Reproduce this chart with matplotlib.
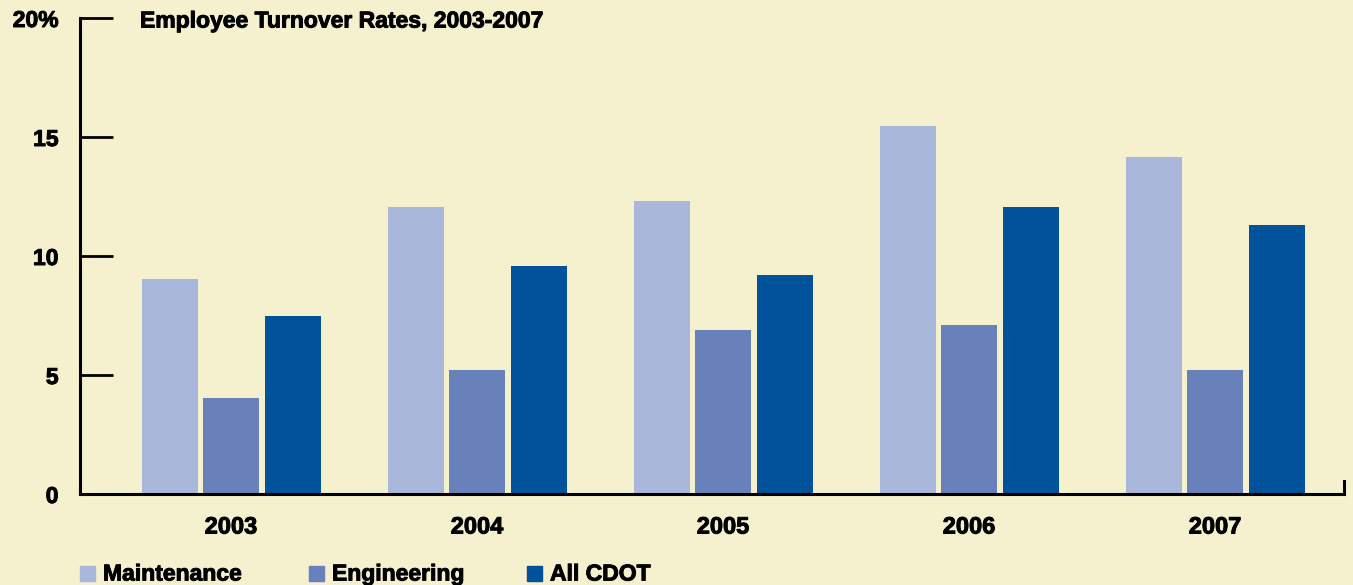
import matplotlib
matplotlib.use("Agg")
import matplotlib.pyplot as plt
import matplotlib.patheffects as pe
from matplotlib.patches import Rectangle
from matplotlib.lines import Line2D
import numpy as np

years = ["2003", "2004", "2005", "2006", "2007"]
series_names = ["Maintenance", "Engineering", "All CDOT"]
maintenance = [9.05, 12.05, 12.3, 15.45, 14.15]
engineering = [4.05, 5.2, 6.9, 7.1, 5.2]
all_cdot = [7.5, 9.6, 9.2, 12.05, 11.3]
y_ticks = [0, 5, 10, 15, 20]
y_tick_labels = ["0", "5", "10", "15", "20%"]
title = "Employee Turnover Rates, 2003-2007"

colors = ["#A9B7DA", "#6881BA", "#00529B"]
bg = "#F5F0CD"

W, H = 1353, 585
fig = plt.figure(figsize=(W / 100, H / 100), dpi=100, facecolor=bg)
plt.rcParams["font.family"] = ["Liberation Sans", "DejaVu Sans"]
fs = 16.5
heavy = [pe.withStroke(linewidth=0.7, foreground="black")]

ax = fig.add_axes([80 / W, 1 - 494 / H, (1344 - 80) / W, (494 - 18) / H])
ax.set_facecolor(bg)

x = np.arange(len(years))
width = 0.228
step = 0.25
for i, (vals, col) in enumerate(zip([maintenance, engineering, all_cdot], colors)):
    ax.bar(x + (i - 1) * step, vals, width=width, color=col, zorder=2)

ax.set_xlim(-0.614, 4.524)
ax.set_ylim(0, 20)

for s in ["top", "right"]:
    ax.spines[s].set_visible(False)
for s in ["left", "bottom"]:
    ax.spines[s].set_linewidth(2.2)
    ax.spines[s].set_color("black")
    ax.spines[s].set_zorder(3)

ax.set_yticks(y_ticks)
ax.set_yticklabels(y_tick_labels, fontsize=fs, fontweight="bold")
ax.tick_params(axis="y", direction="in", length=24, width=2.0, pad=15.5)
ax.set_xticks(x)
ax.set_xticklabels(years, fontsize=17, fontweight="bold")
ax.tick_params(axis="x", length=0, pad=15.5)
for lab in ax.get_xticklabels() + ax.get_yticklabels():
    lab.set_path_effects(heavy)

# small upward end cap on the baseline
ax.add_line(Line2D([1, 1], [0, 13 / 476], transform=ax.transAxes,
                   color="black", lw=2.2, clip_on=False, zorder=3))

fig.text(140 / W, 1 - 21 / H, title, fontsize=fs, fontweight="bold",
         ha="left", va="center", path_effects=heavy)

# legend row
leg_x = [80, 309, 527]
for name, col, lx in zip(series_names, colors, leg_x):
    fig.add_artist(Rectangle((lx / W, 1 - 581 / H), 15 / W, 15 / H,
                             transform=fig.transFigure, color=col))
    fig.text((lx + 23) / W, 1 - 574 / H, name, fontsize=fs, fontweight="bold",
             ha="left", va="center", path_effects=heavy)

fig.savefig("out.png", dpi=100, facecolor=bg)
